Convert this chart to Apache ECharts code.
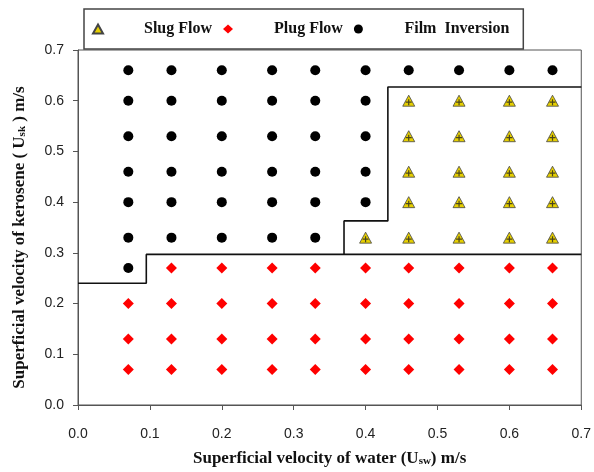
<!DOCTYPE html>
<html><head><meta charset="utf-8">
<script src="https://cdn.jsdelivr.net/npm/echarts@6/dist/echarts.min.js"></script>
<style>html,body{margin:0;padding:0;background:#fff}#c{width:594px;height:472px}</style>
</head><body><div id="c"></div>
<script>
// Superficial velocities of water (columns) and kerosene (rows), m/s
const waterVel = [0.07, 0.13, 0.20, 0.27, 0.33, 0.40, 0.46, 0.53, 0.60, 0.66];
const keroseneVel = [0.66, 0.60, 0.53, 0.46, 0.40, 0.33, 0.27, 0.20, 0.13, 0.07];
// Marker observed at each point: T = triangle, D = red diamond, C = black circle
const regimeRows = [
  'CCCCCCCCCC', // 0.66
  'CCCCCCTTTT', // 0.60
  'CCCCCCTTTT', // 0.53
  'CCCCCCTTTT', // 0.46
  'CCCCCCTTTT', // 0.40
  'CCCCCTTTTT', // 0.33
  'CDDDDDDDDD', // 0.27
  'DDDDDDDDDD', // 0.20
  'DDDDDDDDDD', // 0.13
  'DDDDDDDDDD'  // 0.07
];
const seriesNames = ['Slug Flow', 'Plug Flow', 'Film  Inversion'];
// Regime boundaries
const boundaryLower = [[0, 0.24], [0.095, 0.24], [0.095, 0.297], [0.7, 0.297]];
const boundaryUpper = [[0.37, 0.297], [0.37, 0.363], [0.431, 0.363], [0.431, 0.627], [0.7, 0.627]];
const tickLabels = ['0.0', '0.1', '0.2', '0.3', '0.4', '0.5', '0.6', '0.7'];

function pointsFor(code) {
  const out = [];
  regimeRows.forEach((row, r) => {
    for (let c = 0; c < row.length; c++) {
      if (row[c] === code) out.push([waterVel[c], keroseneVel[r]]);
    }
  });
  return out;
}
const triPts = pointsFor('T');
const diaPts = pointsFor('D');
const cirPts = pointsFor('C');

const chart = echarts.init(document.getElementById('c'));
const serif = '"Liberation Serif","Times New Roman",serif';
const sans = '"Liberation Sans",Arial,sans-serif';
const fmt = v => tickLabels[Math.round(v * 10)] ?? v;
const titleRich = {
  t: { fontFamily: serif, fontWeight: 'bold', fontSize: 17, color: '#111', lineHeight: 22, verticalAlign: 'bottom' },
  s: { fontFamily: serif, fontWeight: 'bold', fontSize: 11, color: '#111', lineHeight: 8, verticalAlign: 'bottom' }
};

chart.setOption({
  animation: false,
  backgroundColor: '#fff',
  grid: { left: 78, right: 9, top: 50, bottom: 65, show: true, borderColor: '#555', borderWidth: 1 },
  legend: {
    left: 84, top: 9,
    padding: [12, 14, 12, 8],
    itemWidth: 10, itemHeight: 9, itemGap: 11,
    borderColor: '#444', borderWidth: 1.5, backgroundColor: '#fff',
    data: seriesNames,
    textStyle: { fontFamily: serif, fontWeight: 'bold', fontSize: 16, color: '#111', padding: [0, 0, 0, 36] }
  },
  xAxis: {
    type: 'value', min: 0, max: 0.7, interval: 0.1,
    axisLine: { show: true, lineStyle: { color: '#555', width: 1 } },
    axisTick: { show: true, inside: false, length: 5, lineStyle: { color: '#555' } },
    splitLine: { show: false },
    axisLabel: { formatter: fmt, fontFamily: sans, fontSize: 14, color: '#222', margin: 22 },
    name: '{t|Superficial velocity of water (U}{s|sw}{t|) m/s}',
    nameLocation: 'middle', nameGap: 40,
    nameTextStyle: { rich: titleRich }
  },
  yAxis: {
    type: 'value', min: 0, max: 0.7, interval: 0.1,
    axisLine: { show: true, lineStyle: { color: '#555', width: 1 } },
    axisTick: { show: true, inside: false, length: 5, lineStyle: { color: '#555' } },
    splitLine: { show: false },
    axisLabel: { formatter: fmt, fontFamily: sans, fontSize: 14, color: '#222', margin: 14 },
    name: '{t|Superficial velocity of kerosene ( U}{s|sk}{t| ) m/s}',
    nameLocation: 'middle', nameGap: 50,
    nameTextStyle: { rich: titleRich, padding: [0, 20, 0, 0] }
  },
  series: [
    { name: 'Boundary A', type: 'line', data: boundaryLower, symbol: 'none', lineStyle: { color: '#111', width: 1.6 }, z: 1 },
    { name: 'Boundary B', type: 'line', data: boundaryUpper, symbol: 'none', lineStyle: { color: '#111', width: 1.6 }, z: 1 },
    { name: seriesNames[0], type: 'scatter', data: triPts, symbol: 'triangle', symbolSize: [12, 11],
      itemStyle: { color: '#e6cf00', borderColor: '#444', borderWidth: 0.8, opacity: 1 }, z: 3 },
    { name: 'cross', type: 'scatter', data: triPts, symbol: 'path://M4,0H6V4H10V6H6V10H4V6H0V4H4Z', symbolSize: 6,
      symbolOffset: [0, 1.5], itemStyle: { color: '#222' }, z: 4, silent: true },
    { name: seriesNames[1], type: 'scatter', data: diaPts, symbol: 'diamond', symbolSize: [11, 11],
      itemStyle: { color: '#ff0000', opacity: 1 }, z: 3 },
    { name: seriesNames[2], type: 'scatter', data: cirPts, symbol: 'circle', symbolSize: 10,
      itemStyle: { color: '#000', opacity: 1 }, z: 3 }
  ]
});
</script>
</body></html>
